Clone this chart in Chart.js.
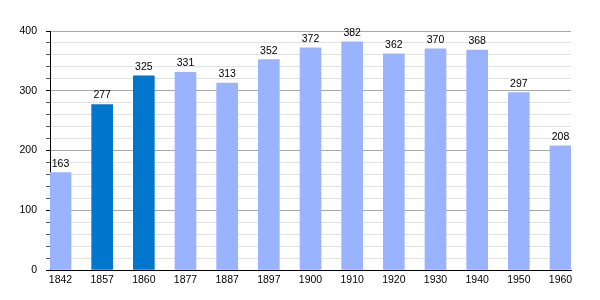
<!DOCTYPE html>
<html>
<head>
<meta charset="utf-8">
<script src="https://cdn.jsdelivr.net/npm/chart.js@4"></script>
<style>
  html, body { margin: 0; padding: 0; background: #fff; }
  #wrap { width: 600px; height: 300px; }
</style>
</head>
<body>
<div id="wrap"><canvas id="chartPop"></canvas></div>
<script>
const years = ['1842', '1857', '1860', '1877', '1887', '1897', '1900', '1910', '1920', '1930', '1940', '1950', '1960'];
const population = [163, 277, 325, 331, 313, 352, 372, 382, 362, 370, 368, 297, 208];
const highlighted = ['1857', '1860'];
const yTickLabels = [0, 100, 200, 300, 400];

const LIGHT = '#99b3ff';
const DARK = '#0077cc';
const FONT = "'Liberation Sans', Arial, sans-serif";

// value printed above each bar
const barValues = {
   id: 'barValues',
   afterDatasetsDraw(chart) {
      const ctx = chart.ctx;
      const meta = chart.getDatasetMeta(0);
      ctx.save();
      ctx.font = '10.5px ' + FONT;
      ctx.fillStyle = '#000';
      ctx.textAlign = 'center';
      ctx.textBaseline = 'alphabetic';
      meta.data.forEach((bar, i) => {
         ctx.fillText(String(population[i]), bar.x, bar.y - 6);
      });
      ctx.restore();
   }
};

const ctx = document.getElementById('chartPop').getContext('2d');
new Chart(ctx, {
   type: 'bar',
   data: {
      datasets: [{
         data: population.map((v, i) => ({ x: i, y: v })),
         backgroundColor: years.map(y => highlighted.includes(y) ? DARK : LIGHT),
         borderWidth: 0,
         barThickness: 21,
      }]
   },
   options: {
      responsive: true,
      maintainAspectRatio: false,
      animation: false,
      layout: { padding: { top: 31, right: 29, left: 0, bottom: 0 } },
      scales: {
         x: {
            type: 'linear',
            offset: false,
            min: -0.252,
            max: years.length - 1 + 0.252,
            afterBuildTicks: scale => { scale.ticks = years.map((y, i) => ({ value: i })); },
            afterFit: scale => { scale.height = 30; },
            grid: { display: false, drawTicks: false, offset: false },
            border: { color: '#000', width: 1 },
            ticks: {
               padding: 4,
               color: '#000',
               font: { family: FONT, size: 10.5 },
               callback: value => years[value] ?? '',
               maxRotation: 0,
               autoSkip: false,
            }
         },
         y: {
            min: 0,
            max: 400,
            afterBuildTicks: scale => {
               const t = [];
               for (let v = 0; v <= 400; v += 20) t.push({ value: v });
               scale.ticks = t;
            },
            afterFit: scale => { scale.width = 50; },
            border: { color: '#000', width: 1 },
            grid: {
               color: c => c.tick && c.tick.value % 100 === 0 ? '#a8a8a8' : '#e2e2e2',
               tickColor: c => c.tick && c.tick.value % 100 === 0 ? '#000' : '#555',
               tickLength: 4,
               lineWidth: 1,
            },
            ticks: {
               padding: 9,
               color: '#000',
               font: { family: FONT, size: 10.5 },
               autoSkip: false,
               callback: value => yTickLabels.includes(value) ? String(value) : '',
            }
         }
      },
      plugins: {
         legend: { display: false },
         title: { display: false },
         tooltip: { enabled: false },
      }
   },
   plugins: [barValues]
});
</script>
</body>
</html>
